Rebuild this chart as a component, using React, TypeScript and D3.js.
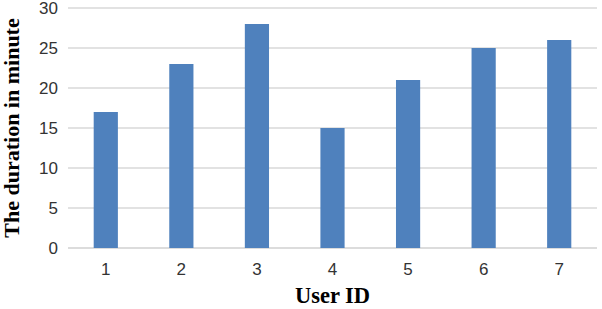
import React, { useEffect, useRef } from 'react';
import * as d3 from 'd3';

const userIds = ['1', '2', '3', '4', '5', '6', '7'];
const durations = [17, 23, 28, 15, 21, 25, 26];
const yTicks = [0, 5, 10, 15, 20, 25, 30];

const App: React.FC = () => {
  const ref = useRef<SVGSVGElement | null>(null);

  useEffect(() => {
    if (!ref.current) return;
    const root = d3.select(ref.current);
    root.selectAll('*').remove();

    const width = 602;
    const height = 309;
    const margin = { top: 8, right: 5, bottom: 61, left: 68 };
    const innerW = width - margin.left - margin.right;
    const innerH = height - margin.top - margin.bottom;

    root.attr('width', width).attr('height', height);
    const svg = root
      .append('g')
      .attr('transform', `translate(${margin.left},${margin.top})`);

    const x = d3.scaleBand().domain(userIds).range([0, innerW]).paddingInner(0.68).paddingOuter(0.34);
    const y = d3.scaleLinear().domain([0, 30]).range([innerH, 0]);

    svg
      .selectAll('.grid')
      .data(yTicks)
      .enter()
      .append('line')
      .attr('x1', 0)
      .attr('x2', innerW)
      .attr('y1', (d) => y(d))
      .attr('y2', (d) => y(d))
      .attr('stroke', (d) => (d === 0 ? '#d0d0d0' : '#d9d9d9'))
      .attr('stroke-width', 1.3);

    svg
      .selectAll('.ylab')
      .data(yTicks)
      .enter()
      .append('text')
      .attr('x', -10)
      .attr('y', (d) => y(d))
      .attr('dy', '0.36em')
      .attr('text-anchor', 'end')
      .style('font-family', '"Liberation Sans", Arial, sans-serif')
      .style('font-size', '17px')
      .attr('fill', '#333')
      .text((d) => d);

    svg
      .selectAll('.bar')
      .data(durations)
      .enter()
      .append('rect')
      .attr('x', (_, i) => x(userIds[i]) || 0)
      .attr('y', (d) => y(d))
      .attr('width', x.bandwidth())
      .attr('height', (d) => innerH - y(d))
      .attr('fill', '#4f81bd');

    svg
      .selectAll('.xlab')
      .data(userIds)
      .enter()
      .append('text')
      .attr('x', (d) => (x(d) || 0) + x.bandwidth() / 2)
      .attr('y', innerH + 27)
      .attr('text-anchor', 'middle')
      .style('font-family', '"Liberation Sans", Arial, sans-serif')
      .style('font-size', '17px')
      .attr('fill', '#333')
      .text((d) => d);

    root
      .append('text')
      .attr('x', margin.left + innerW / 2)
      .attr('y', 303)
      .attr('text-anchor', 'middle')
      .style('font-family', '"Liberation Serif", "Times New Roman", serif')
      .style('font-weight', 'bold')
      .style('font-size', '22.5px')
      .text('User ID');

    root
      .append('text')
      .attr('transform', `translate(19, ${margin.top + innerH / 2}) rotate(-90)`)
      .attr('text-anchor', 'middle')
      .style('font-family', '"Liberation Serif", "Times New Roman", serif')
      .style('font-weight', 'bold')
      .style('font-size', '22px')
      .text('The duration in minute');
  }, []);

  return (
    <div style={{ position: 'absolute', left: 0, top: 0 }}>
      <svg ref={ref}></svg>
    </div>
  );
};

export default App;
